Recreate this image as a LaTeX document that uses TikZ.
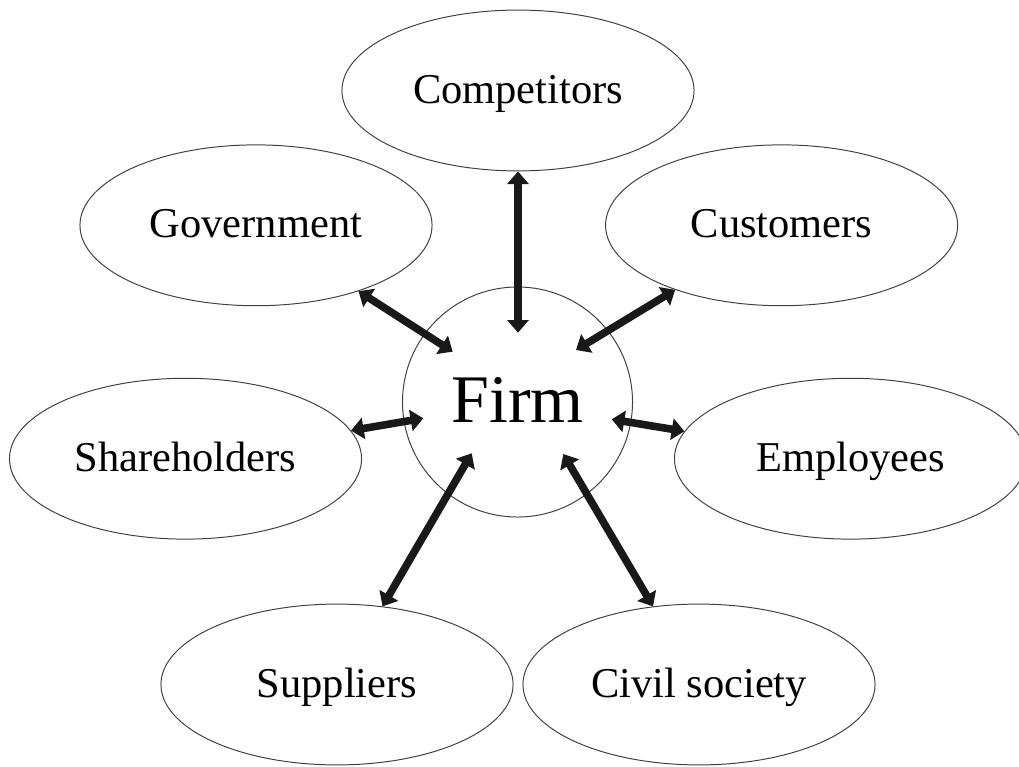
\documentclass[tikz,border=0pt]{standalone}
\usepackage{fontspec}
\setmainfont{Liberation Serif}
\usetikzlibrary{shapes.geometric,arrows.meta}
\begin{document}
\begin{tikzpicture}[x=0.025cm, y=-0.025cm,
    party/.style={ellipse, draw=black!75, line width=0.7pt, inner sep=0pt,
      minimum width=8.8cm, minimum height=4.02cm,
      font=\fontsize{30.2}{36}\selectfont, text height=22.6pt, text depth=4.8pt},
    link/.style={{Triangle[width=15pt,length=9pt]}-{Triangle[width=15pt,length=9pt]},
      line width=5.4pt, black!90}]
      \useasboundingbox (0,0) rectangle (1019,767);
      \node [circle, draw=black!75, line width=0.7pt, inner sep=0pt, minimum size=5.75cm,
            font=\fontsize{48.4}{58}\selectfont, text height=36.3pt, text depth=7.7pt] %
            (firm) at (517.5,402) {Firm};
      \node [party] (comp)  at (518,90.5)    {Competitors};
      \node [party] (gov)   at (256,225.3)   {Government};
      \node [party] (cust)  at (781.6,225.3) {Customers};
      \node [party] (share) at (185.5,458.7) {Shareholders};
      \node [party] (empl)  at (850.5,458.7) {Employees};
      \node [party] (supp)  at (337,684.5)   {Suppliers};
      \node [party] (civil) at (699,684.5)   {Civil society};
      % inner ends of the arrows, inside the firm
      \coordinate (comp-in)  at (518,332.7);
      \coordinate (gov-in)   at (452.7,351.7);
      \coordinate (cust-in)  at (576,350);
      \coordinate (share-in) at (423.3,418.3);
      \coordinate (empl-in)  at (611.7,419.3);
      \coordinate (supp-in)  at (471.7,453.3);
      \coordinate (civil-in) at (563.3,454);
      \foreach \p in {comp,gov,cust,share,empl,supp,civil}
            \draw [link] (\p) -- (\p-in);
    \end{tikzpicture}
\end{document}
